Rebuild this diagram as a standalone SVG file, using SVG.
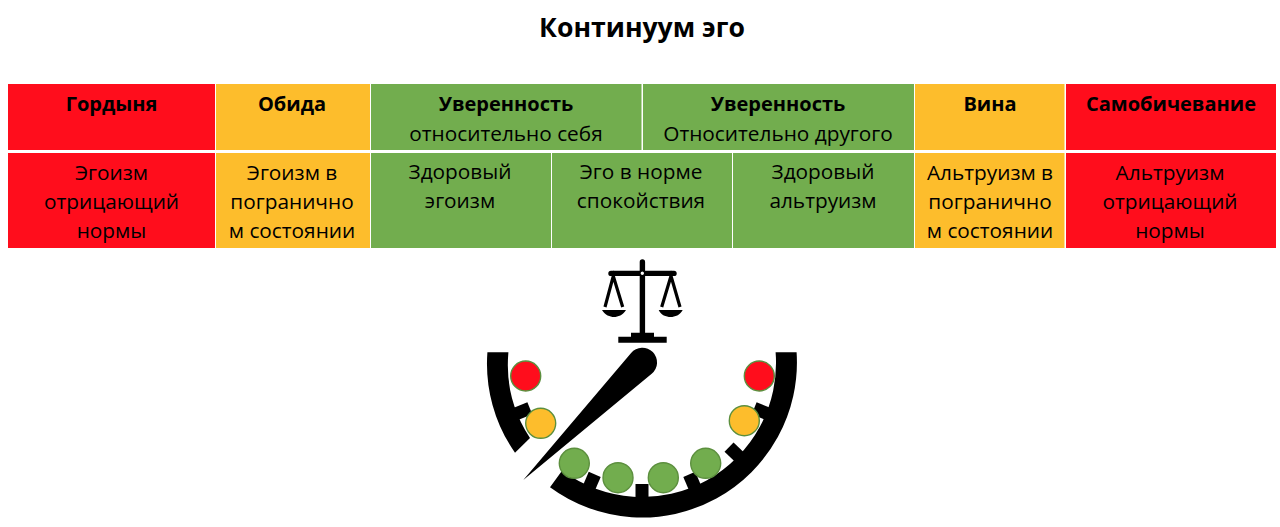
<svg xmlns="http://www.w3.org/2000/svg" width="1280" height="527" viewBox="0 0 1280 527">
<style>
text{font-family:"Open Sans","Noto Sans",sans-serif;text-anchor:middle;fill:#000;font-size:20.8px}
.b{font-weight:700;font-size:20px}
.t{font-weight:700;font-size:26.6px}
.r{fill:#ff0d1c}.o{fill:#fdbd2c}.g{fill:#72ad4e}
.k{fill:#000}
circle.c{stroke:#5c8f3e;stroke-width:1.4}
</style>
<rect width="1280" height="527" fill="#fff"/>
<text id="title" class="t" x="642" y="37">Континуум эго</text>
<g id="h1"><rect class="r" x="8" y="84" width="207" height="66"/><text class="b" x="111.500" y="111">Гордыня</text></g>
<g id="h2"><rect class="o" x="216" y="84" width="154" height="66"/><text class="b" x="292" y="111">Обида</text></g>
<g id="h3"><rect class="g" x="371" y="84" width="270.500" height="66"/><text class="b" x="506" y="111">Уверенность</text><text x="506" y="141">относительно себя</text></g>
<g id="h4"><rect class="g" x="643" y="84" width="271" height="66"/><text class="b" x="778" y="111">Уверенность</text><text x="778" y="141">Относительно другого</text></g>
<g id="h5"><rect class="o" x="915" y="84" width="149.500" height="66"/><text class="b" x="990" y="111">Вина</text></g>
<g id="h6"><rect class="r" x="1066" y="84" width="210" height="66"/><text class="b" x="1171" y="111">Самобичевание</text></g>
<g id="c1"><rect class="r" x="8" y="153" width="207" height="95"/><text x="111.500" y="180">Эгоизм</text><text x="111.500" y="209">отрицающий</text><text x="111.500" y="238">нормы</text></g>
<g id="c2"><rect class="o" x="216" y="153" width="154" height="95"/><text x="292" y="180">Эгоизм в</text><text x="292" y="209">погранично</text><text x="292" y="238">м состоянии</text></g>
<g id="c3"><rect class="g" x="371" y="153" width="180" height="95"/><text x="460" y="179">Здоровый</text><text x="460" y="208">эгоизм</text></g>
<g id="c4"><rect class="g" x="552" y="153" width="180" height="95"/><text x="641" y="179">Эго в норме</text><text x="641" y="208">спокойствия</text></g>
<g id="c5"><rect class="g" x="733" y="153" width="181" height="95"/><text x="823" y="179">Здоровый</text><text x="823" y="208">альтруизм</text></g>
<g id="c6"><rect class="o" x="915" y="153" width="149.500" height="95"/><text x="990" y="180">Альтруизм в</text><text x="990" y="209">погранично</text><text x="990" y="238">м состоянии</text></g>
<g id="c7"><rect class="r" x="1066" y="153" width="210" height="95"/><text x="1170" y="180">Альтруизм</text><text x="1170" y="209">отрицающий</text><text x="1170" y="238">нормы</text></g>
<g id="scales">
<path class="k" d="M639.700 336V262a2.700 2.700 0 0 1 5.400 0V336ZM618.300 336.700H631V332.700H654V336.700H666.700V342.700H618.300Z"/>
<rect class="k" x="608.300" y="270.700" width="68.400" height="5.400" rx="2.700"/>
<circle cx="642.300" cy="273.300" r="2.300" fill="#fff" stroke="#000" stroke-width="1.200"/>
<path d="M605 307L613.300 276L622.700 307M661.700 307L671 276L680 307" fill="none" stroke="#000" stroke-width="3.200"/>
<path class="k" d="M602 310H626C623 315 618 317 614 317C610 317 605 315 602 310ZM658.700 310H682.700C680 315 675 317 670.700 317C666 317 661 315 658.700 310Z"/>
</g>
<g id="dial">
<path class="k" d="M487.400 352.300H508.400A134 134 0 0 0 530 438L515 452.700A155 155 0 0 1 487.400 352.300Z"/>
<path class="k" d="M550 487.300L562.200 470.600A134 134 0 0 0 775.600 352.300H796.600A155 155 0 0 1 550 487.300Z"/>
<g transform="translate(642 363)">
<rect class="k" x="-6.500" y="121" width="13" height="20"/>
<rect class="k" x="-6.500" y="121" width="13" height="20" transform="rotate(23)"/>
<rect class="k" x="-6.500" y="121" width="13" height="20" transform="rotate(-23)"/>
<rect class="k" x="-6.500" y="121" width="13" height="20" transform="rotate(-46)"/>
<rect class="k" x="-6.500" y="121" width="13" height="20" transform="rotate(-68)"/>
<rect class="k" x="-6.500" y="121" width="13" height="20" transform="rotate(68)"/>
</g>
<path id="needle" class="k" d="M523.300 480L631.100 353A14.700 14.700 0 1 1 651.700 373.800Z"/>
</g>
<g id="lights">
<circle class="c r" cx="525.700" cy="376" r="15"/>
<circle class="c o" cx="540.700" cy="423.300" r="15"/>
<circle class="c g" cx="574.300" cy="463.300" r="15"/>
<circle class="c g" cx="618" cy="477.700" r="15"/>
<circle class="c g" cx="663.300" cy="477.700" r="15"/>
<circle class="c g" cx="705.700" cy="463.300" r="15"/>
<circle class="c o" cx="744.300" cy="420.700" r="15"/>
<circle class="c r" cx="759.300" cy="376" r="15"/>
</g>
</svg>
